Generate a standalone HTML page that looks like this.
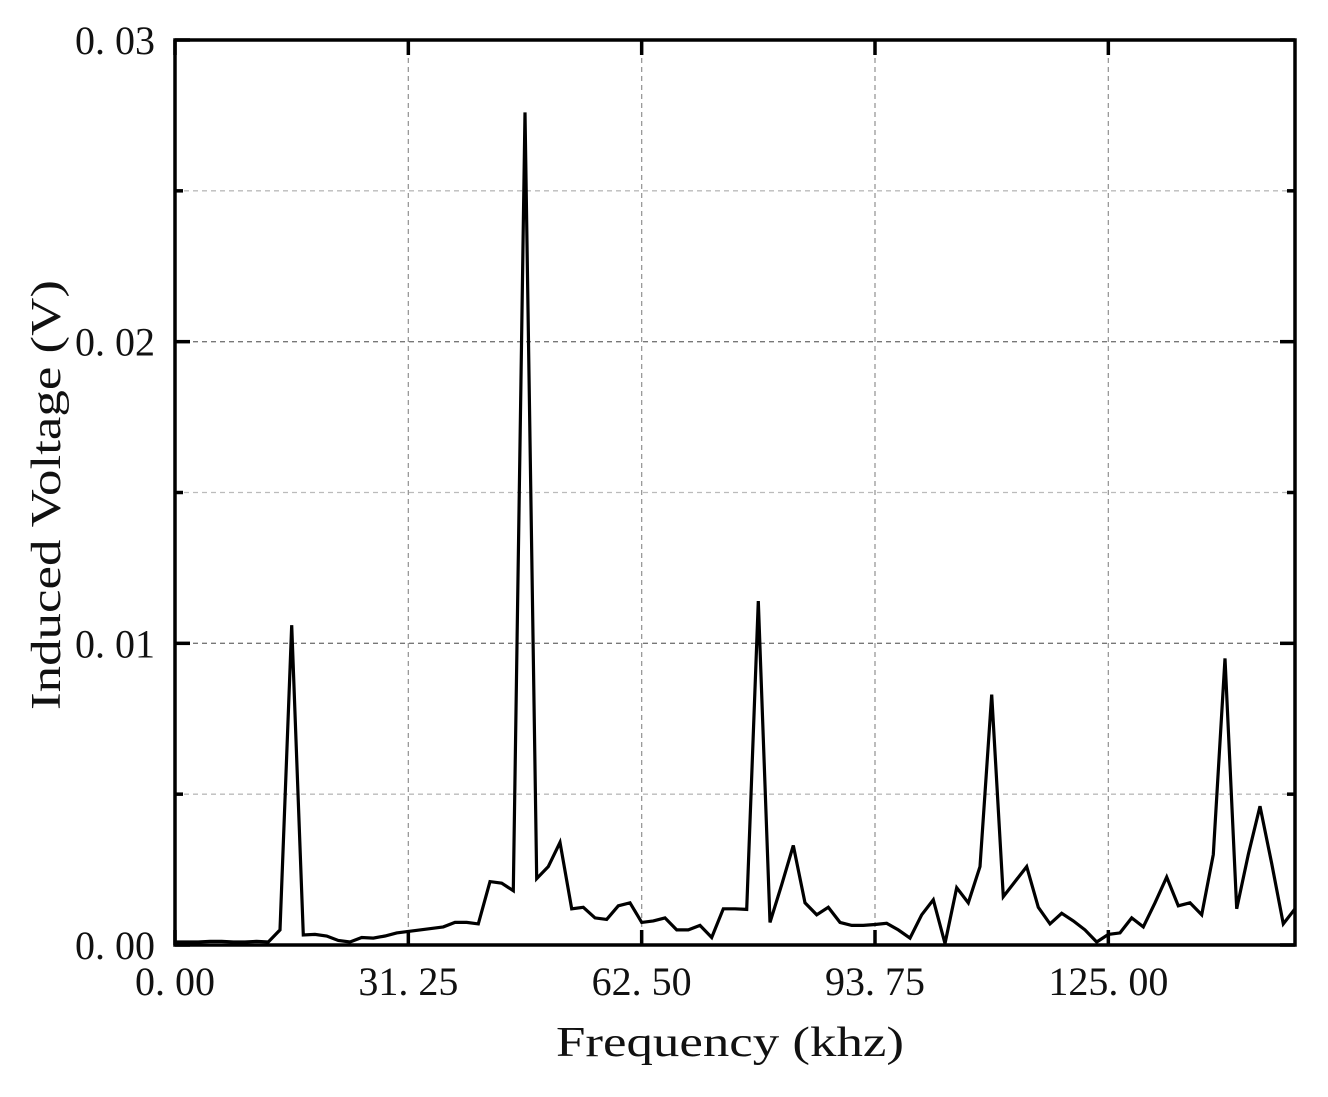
<!DOCTYPE html>
<html><head><meta charset="utf-8"><style>
body{margin:0;background:#fff}
svg{display:block}
text{font-family:"Liberation Serif","Noto Serif CJK SC",serif;fill:#111}
</style></head><body>
<svg id="chart" width="1328" height="1097" viewBox="0 0 1328 1097" xmlns="http://www.w3.org/2000/svg">
<g id="grid"></g>
<g id="ticks"></g>
<g id="labels"></g>
<path id="line" fill="none" stroke="#000" stroke-width="3.2" stroke-linejoin="miter"/>
<rect x="175" y="40" width="1120" height="905" fill="none" stroke="#000" stroke-width="3.5"/>
<text x="730" y="1056" font-size="42" text-anchor="middle" textLength="348" lengthAdjust="spacingAndGlyphs">Frequency (khz)</text>
<text transform="translate(60,495) rotate(-90)" font-size="42" text-anchor="middle" textLength="430" lengthAdjust="spacingAndGlyphs">Induced Voltage (V)</text>
</svg>
<script>
const step = 1.5625;
const values = [0.0001,0.0001,0.0001,0.00012,0.00012,0.0001,0.0001,0.00012,0.0001,0.0005,
0.0106,0.00033,0.00035,0.0003,0.00015,0.0001,0.00025,0.00023,0.0003,0.0004,
0.00045,0.0005,0.00055,0.0006,0.00075,0.00075,0.0007,0.0021,0.00205,0.0018,
0.0276,0.0022,0.0026,0.0034,0.0012,0.00125,0.0009,0.00085,0.0013,0.0014,
0.00075,0.0008,0.0009,0.0005,0.0005,0.00065,0.00025,0.0012,0.0012,0.00118,
0.0114,0.00075,0.002,0.0033,0.0014,0.001,0.00125,0.00075,0.00065,0.00065,
0.00068,0.00072,0.0005,0.00023,0.001,0.0015,0.00005,0.0019,0.0014,0.0026,
0.0083,0.0016,0.0021,0.0026,0.00125,0.0007,0.00105,0.0008,0.0005,0.0001,
0.00035,0.0004,0.0009,0.0006,0.0014,0.00225,0.0013,0.0014,0.001,0.003,
0.0095,0.0012,0.003,0.0046,0.0027,0.0007,0.0012];
const xTicks = [0,31.25,62.5,93.75,125];
const xTickLabels = ["0. 00","31. 25","62. 50","93. 75","125. 00"];
const yTicks = [0,0.01,0.02,0.03];
const yTickLabels = ["0. 00","0. 01","0. 02","0. 03"];
const yMinor = [0.005,0.015,0.025];
const X0=175,X1=1295,Y0=945,Y1=40,XMAX=150,YMAX=0.03;
const sx=v=>X0+(X1-X0)*v/XMAX, sy=v=>Y0-(Y0-Y1)*v/YMAX;
const NS="http://www.w3.org/2000/svg";
function mk(tag,attrs,parent){const e=document.createElementNS(NS,tag);for(const k in attrs)e.setAttribute(k,attrs[k]);document.getElementById(parent).appendChild(e);return e;}
xTicks.forEach((t,i)=>{
  if(t>0){const g=mk('line',{x1:sx(t),x2:sx(t),y1:Y1,y2:Y0,stroke:'#999','stroke-width':1.3,'stroke-dasharray':'5,4'},'grid');
  
  }
  const tk=mk('line',{x1:sx(t),x2:sx(t),y1:Y0,y2:Y0-15,stroke:'#000','stroke-width':3.5},'ticks');
  
  
  const tk2=mk('line',{x1:sx(t),x2:sx(t),y1:Y1,y2:Y1+15,stroke:'#000','stroke-width':3.5},'ticks');
  
  
  const lb=mk('text',{x:sx(t),y:Y0+50,'font-size':40,'text-anchor':'middle'},'labels');
  lb.textContent=xTickLabels[i];
  
  
});
yTicks.concat(yMinor).forEach(t=>{
  const major=yTicks.includes(t);
  if(t>0&&t<YMAX){const g=mk('line',{x1:X0,x2:X1,y1:sy(t),y2:sy(t),stroke:major?'#777':'#bbb','stroke-width':1.3,'stroke-dasharray':'5,4'},'grid');
  
  }
  const len=major?15:8;
  const a=mk('line',{x1:X0,x2:X0+len,y1:sy(t),y2:sy(t),stroke:'#000','stroke-width':3.5},'ticks');
  
  
  const b=mk('line',{x1:X1,x2:X1-len,y1:sy(t),y2:sy(t),stroke:'#000','stroke-width':3.5},'ticks');
  
  
});
yTicks.forEach((t,i)=>{
  const lb=mk('text',{x:X0-20,y:sy(t)+14,'font-size':40,'text-anchor':'end'},'labels');
  lb.textContent=yTickLabels[i];
  
  
});
document.getElementById('line').setAttribute('d',values.map((v,i)=>(i?'L':'M')+sx(i*step).toFixed(1)+','+sy(v).toFixed(1)).join(''));
</script>
</body></html>
